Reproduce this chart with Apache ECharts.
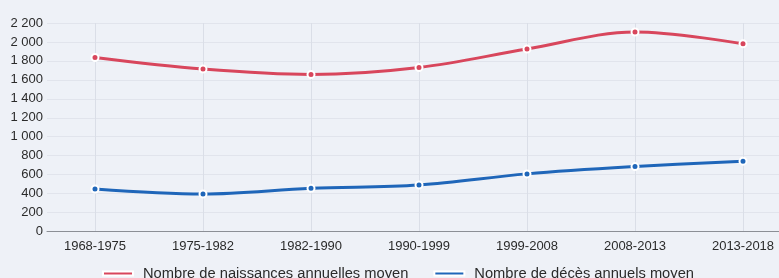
<!DOCTYPE html>
<html>
<head>
<meta charset="utf-8">
<script src="https://cdn.jsdelivr.net/npm/echarts@6/dist/echarts.min.js"></script>
<style>
  html, body { margin: 0; padding: 0; background: #eef1f7; }
  #chart { width: 779px; height: 278px; }
</style>
</head>
<body>
<div id="chart"></div>
<script>
// periodes
const categories = ['1968-1975', '1975-1982', '1982-1990', '1990-1999', '1999-2008', '2008-2013', '2013-2018']
// naissances / deces annuels moyens
const naissances = [1836, 1714, 1657, 1731, 1925, 2105, 1981]
const deces = [449, 396, 456, 491, 608, 685, 742]
const yMin = 0
const yMax = 2200
const yStep = 200

const chart = echarts.init(document.getElementById('chart'))

const fontFamily = 'Liberation Sans, Arial, sans-serif'

function formatTick (v) {
  // separateur de milliers a la francaise
  return String(v).replace(/\B(?=(\d{3})+(?!\d))/g, ' ')
}

function lineSerie (name, color, data) {
  return {
    name: name,
    type: 'line',
    xAxisIndex: 1,
    yAxisIndex: 1,
    smooth: 0.35,
    symbol: 'circle',
    symbolSize: 7,
    showSymbol: true,
    lineStyle: { color: color, width: 3 },
    itemStyle: { color: color, borderColor: '#ffffff', borderWidth: 2 },
    data: data
  }
}

const option = {
  backgroundColor: '#eef1f7',
  animation: false,
  legend: {
    left: 97,
    top: 261,
    itemWidth: 30,
    itemHeight: 4,
    itemGap: 25,
    icon: 'rect',
    textStyle: { color: '#2b2b2b', fontSize: 14.7, fontFamily: fontFamily, padding: [0, 0, 0, 5] },
    data: ['Nombre de naissances annuelles moyen', 'Nombre de décès annuels moyen']
  },
  grid: [
    { left: 47, right: 0, top: 23, bottom: 46.5 },
    { left: 95, right: 36, top: 23, bottom: 46.5 }
  ],
  xAxis: [
    {
      // seulement la ligne d'axe, plus longue que la zone des points
      type: 'value',
      gridIndex: 0,
      min: 0,
      max: 1,
      axisLine: { show: true, lineStyle: { color: '#8c8f96', width: 1 } },
      axisTick: { show: false },
      axisLabel: { show: false },
      splitLine: { show: false }
    },
    {
      type: 'category',
      gridIndex: 1,
      boundaryGap: false,
      data: categories,
      axisLine: { show: false },
      axisTick: { show: false },
      axisLabel: { margin: 8, color: '#2b2b2b', fontSize: 13, fontFamily: fontFamily },
      splitLine: { show: true, lineStyle: { color: '#dadee7', width: 1 } }
    }
  ],
  yAxis: [
    {
      type: 'value',
      gridIndex: 0,
      min: yMin,
      max: yMax,
      interval: yStep,
      axisLine: { show: false },
      axisTick: { show: false },
      axisLabel: { margin: 4, formatter: formatTick, color: '#2b2b2b', fontSize: 13, fontFamily: fontFamily },
      splitLine: { show: true, lineStyle: { color: '#e1e4ec', width: 1 } }
    },
    {
      type: 'value',
      gridIndex: 1,
      min: yMin,
      max: yMax,
      interval: yStep,
      show: false
    }
  ],
  series: [
    lineSerie('Nombre de naissances annuelles moyen', '#d8465c', naissances),
    lineSerie('Nombre de décès annuels moyen', '#1f66b9', deces)
  ]
}

chart.setOption(option)
</script>
</body>
</html>
